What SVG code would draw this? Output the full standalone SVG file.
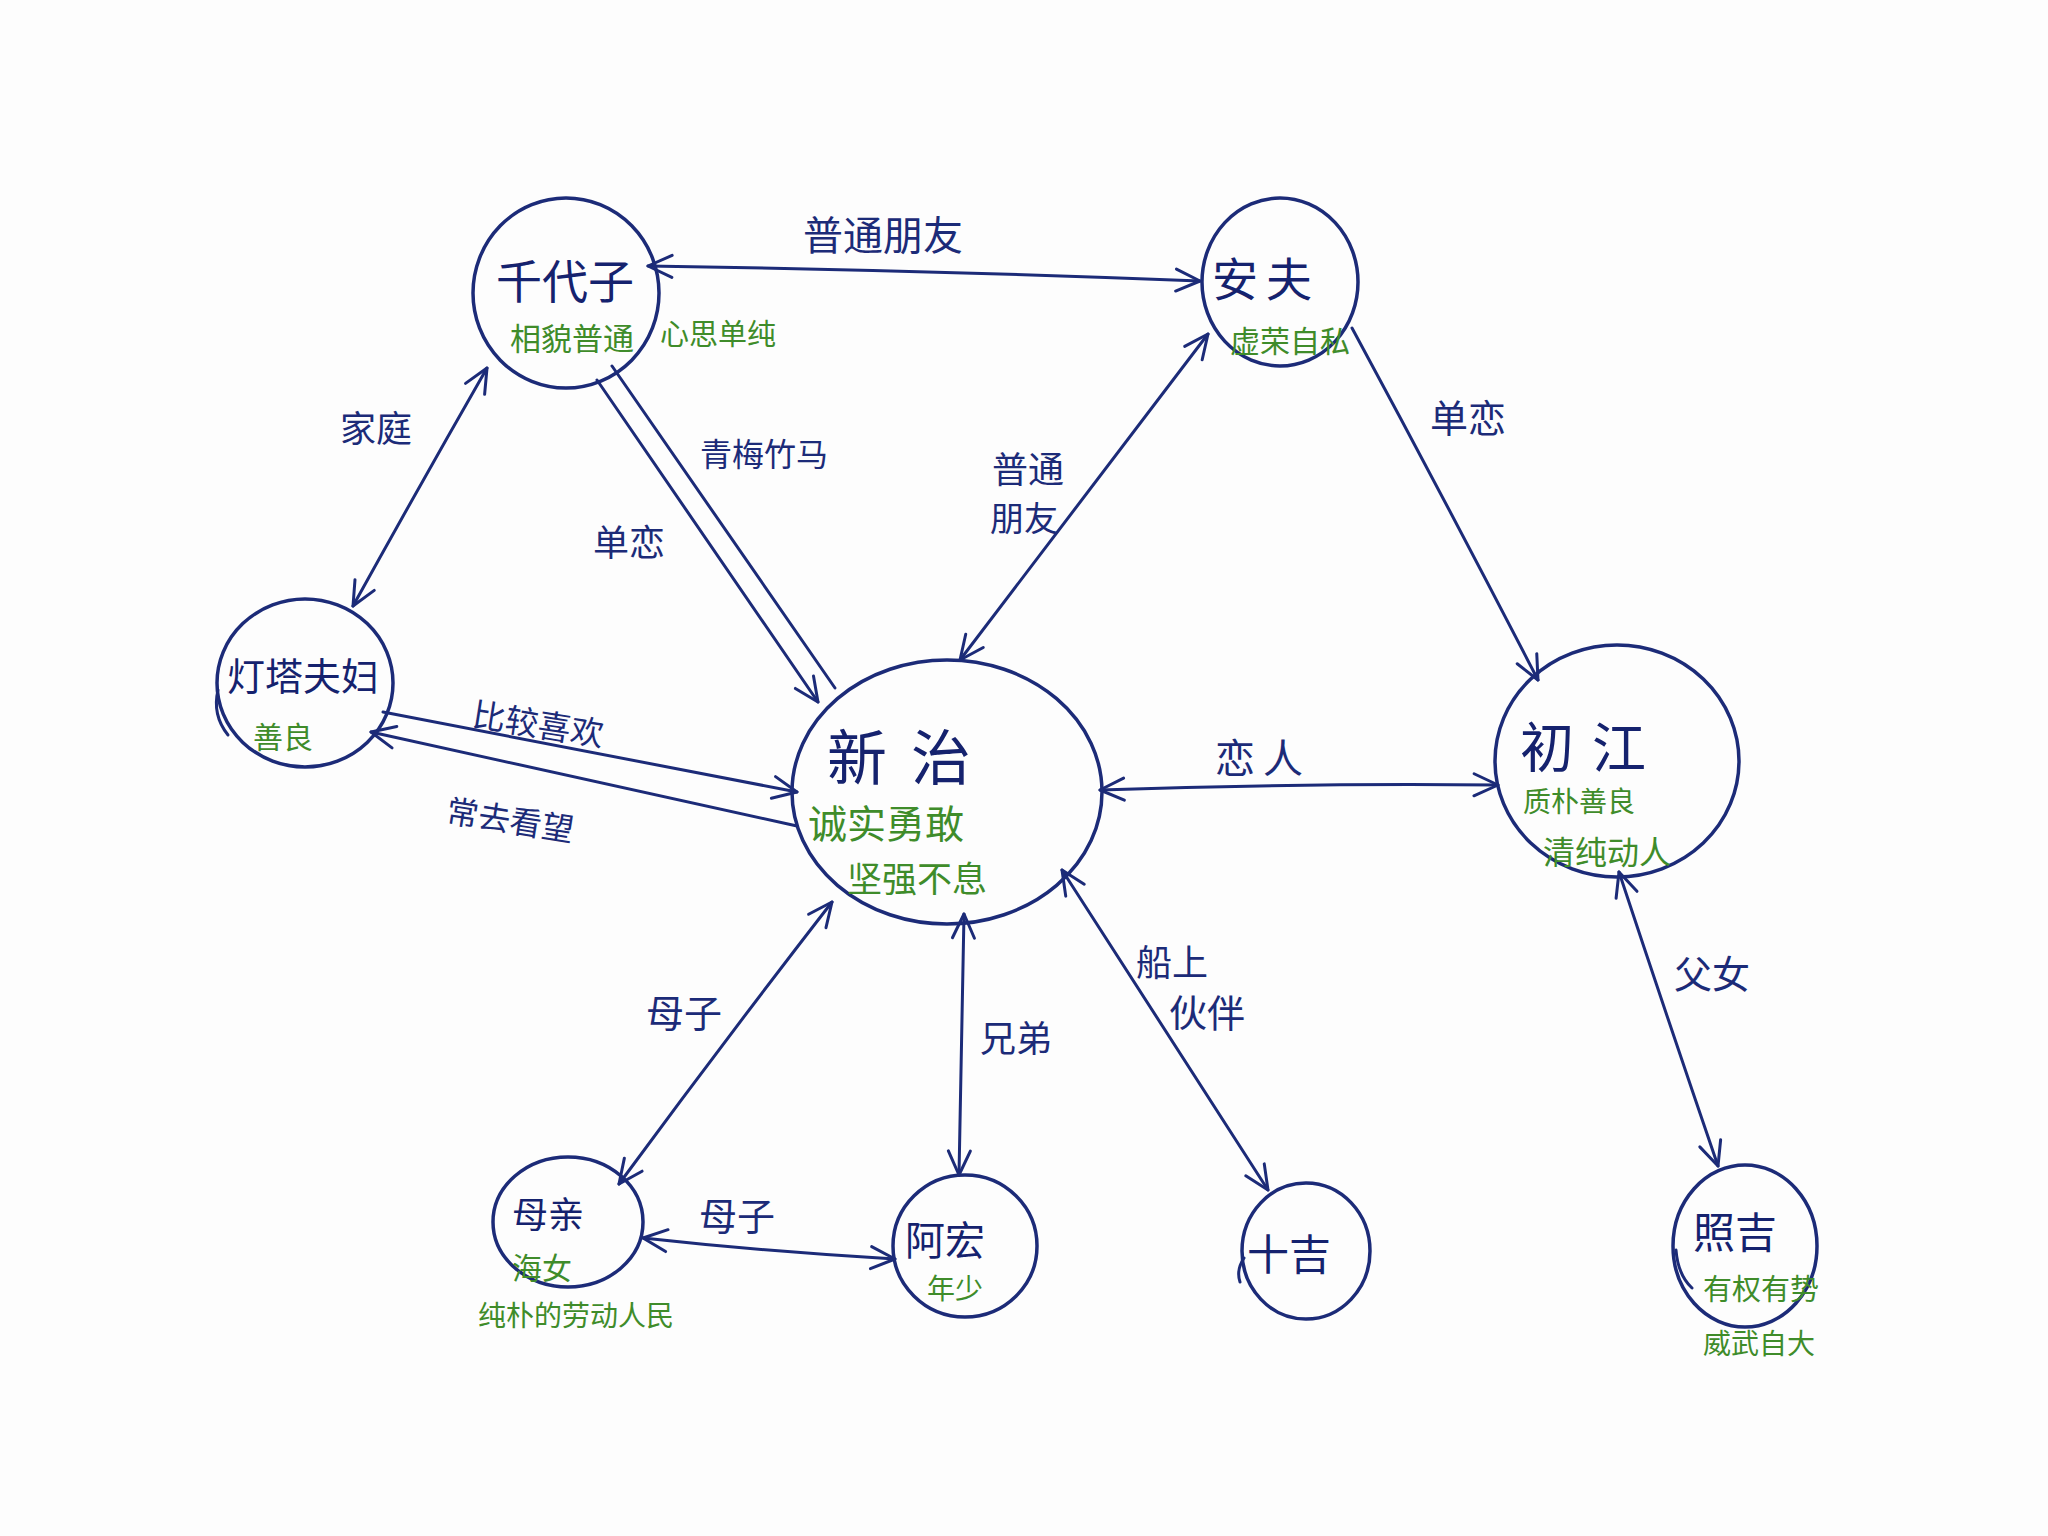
<svg xmlns="http://www.w3.org/2000/svg" width="2048" height="1536" viewBox="0 0 2048 1536">
  <defs>
    <marker id="arrow" viewBox="0 0 30 30" markerWidth="30" markerHeight="30" refX="27" refY="15" orient="auto-start-reverse" markerUnits="userSpaceOnUse">
      <path d="M3,4 L27,15 L3,26" fill="none" stroke="#1c2b78" stroke-width="3" stroke-linecap="round" stroke-linejoin="round"/>
    </marker>
  </defs>
  <style>
    .node { fill: none; stroke: #1c2b78; stroke-width: 3.5; }
    .tail { fill: none; stroke: #1c2b78; stroke-width: 3; stroke-linecap: round; }
    .edge { fill: none; stroke: #1c2b78; stroke-width: 3; stroke-linecap: round; }
    .both { marker-start: url(#arrow); marker-end: url(#arrow); }
    .end { marker-end: url(#arrow); }
    .start { marker-start: url(#arrow); }
    text { font-family: "Noto Sans CJK SC", "Noto Sans", sans-serif; }
    .name { fill: #15226e; }
    .trait { fill: #3f8c2a; }
    .rel { fill: #1c2b78; }
  </style>
  <rect width="2048" height="1536" fill="#fdfdfd"/>

  <!-- relationships -->
  <g id="connectors">
    <path class="edge both" d="M648,266 Q925,270 1200,281"/>
    <path class="edge both" d="M487,368 Q420,485 353,606"/>
    <path class="edge end" d="M597,380 L818,702"/>
    <path class="edge" d="M612,366 L835,688"/>
    <path class="edge both" d="M1208,334 Q1085,495 960,660"/>
    <path class="edge end" d="M1352,328 Q1445,500 1538,680"/>
    <path class="edge end" d="M383,712 L797,792"/>
    <path class="edge start" d="M371,732 L797,826"/>
    <path class="edge both" d="M1100,790 Q1300,783 1498,785"/>
    <path class="edge both" d="M832,902 Q725,1040 619,1184"/>
    <path class="edge both" d="M964,914 Q961,1045 959,1175"/>
    <path class="edge both" d="M1062,870 Q1165,1030 1268,1190"/>
    <path class="edge both" d="M1619,872 Q1668,1020 1718,1166"/>
    <path class="edge both" d="M643,1238 Q770,1252 895,1259"/>

    <text class="rel" x="803" y="250" font-size="40">普通朋友</text>
    <text class="rel" x="340" y="442" font-size="36">家庭</text>
    <text class="rel" x="700" y="466" font-size="32">青梅竹马</text>
    <text class="rel" x="593" y="556" font-size="36">单恋</text>
    <text class="rel" x="992" y="483" font-size="36">普通</text>
    <text class="rel" x="990" y="531" font-size="34">朋友</text>
    <text class="rel" x="1430" y="432" font-size="38">单恋</text>
    <text class="rel" x="473" y="726" font-size="33" transform="rotate(9 473 714)">比较喜欢</text>
    <text class="rel" x="447" y="822" font-size="32" transform="rotate(9 447 810)">常去看望</text>
    <text class="rel" x="1215" y="773" font-size="40" letter-spacing="8">恋人</text>
    <text class="rel" x="646" y="1027" font-size="38">母子</text>
    <text class="rel" x="980" y="1052" font-size="36">兄弟</text>
    <text class="rel" x="1136" y="976" font-size="36">船上</text>
    <text class="rel" x="1169" y="1027" font-size="38">伙伴</text>
    <text class="rel" x="1674" y="988" font-size="38">父女</text>
    <text class="rel" x="699" y="1230" font-size="38">母子</text>
  </g>

  <g id="chiyoko">
    <ellipse class="node" cx="566" cy="293" rx="93" ry="95"/>
    <text class="name" x="496" y="298" font-size="46">千代子</text>
    <text class="trait" x="510" y="350" font-size="31">相貌普通</text>
    <text class="trait" x="660" y="345" font-size="29">心思单纯</text>
  </g>

  <g id="yasuo">
    <ellipse class="node" cx="1280" cy="282" rx="78" ry="84"/>
    <text class="name" x="1212" y="296" font-size="46" letter-spacing="8">安夫</text>
    <text class="trait" x="1230" y="352" font-size="30">虚荣自私</text>
  </g>

  <g id="lighthouse-couple">
    <ellipse class="node" cx="305" cy="683" rx="88" ry="84"/>
    <path class="tail" d="M218,690 Q212,715 228,735"/>
    <text class="name" x="227" y="690" font-size="38">灯塔夫妇</text>
    <text class="trait" x="253" y="748" font-size="30">善良</text>
  </g>

  <g id="shinji">
    <ellipse class="node" cx="947" cy="792" rx="155" ry="132"/>
    <text class="name" x="827" y="780" font-size="60" letter-spacing="24">新治</text>
    <text class="trait" x="808" y="838" font-size="39">诚实勇敢</text>
    <text class="trait" x="847" y="892" font-size="35">坚强不息</text>
  </g>

  <g id="hatsue">
    <ellipse class="node" cx="1617" cy="761" rx="122" ry="116"/>
    <text class="name" x="1520" y="768" font-size="54" letter-spacing="18">初江</text>
    <text class="trait" x="1523" y="812" font-size="28">质朴善良</text>
    <text class="trait" x="1543" y="864" font-size="32">清纯动人</text>
  </g>

  <g id="mother">
    <ellipse class="node" cx="568" cy="1222" rx="75" ry="65"/>
    <text class="name" x="512" y="1228" font-size="36">母亲</text>
    <text class="trait" x="512" y="1279" font-size="30">海女</text>
    <text class="trait" x="478" y="1326" font-size="28">纯朴的劳动人民</text>
  </g>

  <g id="hiroshi">
    <ellipse class="node" cx="965" cy="1246" rx="72" ry="71"/>
    <text class="name" x="905" y="1255" font-size="40">阿宏</text>
    <text class="trait" x="927" y="1299" font-size="28">年少</text>
  </g>

  <g id="jukichi">
    <ellipse class="node" cx="1306" cy="1251" rx="64" ry="68"/>
    <path class="tail" d="M1244,1258 Q1236,1270 1240,1282"/>
    <text class="name" x="1247" y="1270" font-size="42">十吉</text>
  </g>

  <g id="terukichi">
    <ellipse class="node" cx="1745" cy="1246" rx="72" ry="81"/>
    <path class="tail" d="M1676,1250 Q1678,1275 1692,1288"/>
    <text class="name" x="1693" y="1248" font-size="42">照吉</text>
    <text class="trait" x="1703" y="1300" font-size="29">有权有势</text>
    <text class="trait" x="1703" y="1354" font-size="28">威武自大</text>
  </g>
</svg>
